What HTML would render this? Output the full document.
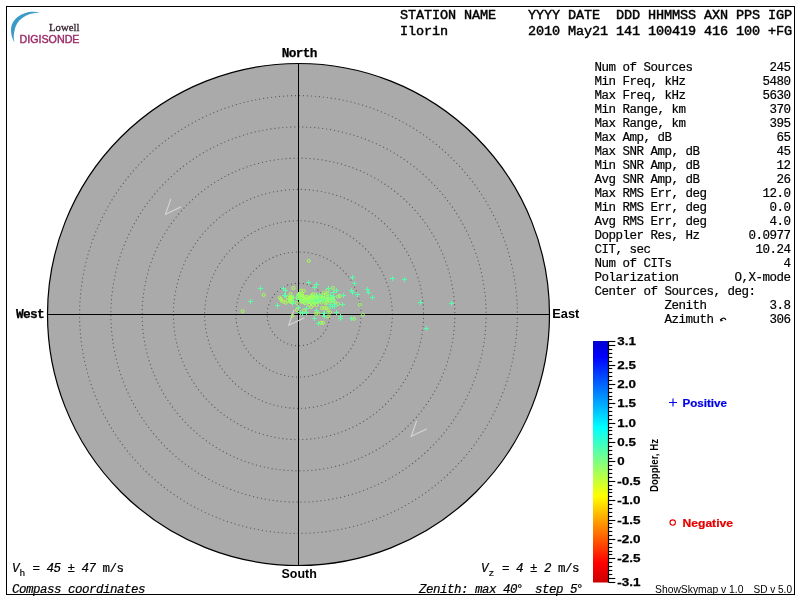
<!DOCTYPE html>
<html><head><meta charset="utf-8"><title>Skymap - Ilorin</title>
<style>html,body{margin:0;padding:0;background:#fff;}svg{display:block;}</style>
</head><body>
<svg width="800" height="600" viewBox="0 0 800 600" style="will-change:transform">
<defs><linearGradient id="jet" x1="0" y1="0" x2="0" y2="1">
<stop offset="0.0000" stop-color="#0000cc"/>
<stop offset="0.0645" stop-color="#0000ff"/>
<stop offset="0.3581" stop-color="#00ffff"/>
<stop offset="0.5000" stop-color="#80ff80"/>
<stop offset="0.6419" stop-color="#ffff00"/>
<stop offset="0.9194" stop-color="#ff0000"/>
<stop offset="1.0000" stop-color="#cc0000"/>
</linearGradient></defs>
<rect x="0" y="0" width="800" height="600" fill="#fff"/>
<rect x="6.5" y="6.5" width="788" height="588" fill="none" stroke="#000" stroke-width="1"/>
<path d="M40,12.5 C25,9 11,18 11,30 C11,35 12.5,39.5 14.5,42.5 C13.3,38 13.6,34 14.7,30 C16.2,21 25,12.6 40,12.5 Z" fill="#3a9bc8"/>
<text x="49" y="31" font-family='"Liberation Serif", serif' font-size="11" font-weight="normal" fill="#33232e" textLength="30.5" lengthAdjust="spacingAndGlyphs" stroke="#33232e" stroke-width="0.3" xml:space="preserve">Lowell</text>
<text x="19.5" y="42.5" font-family='"Liberation Sans", sans-serif' font-size="10" font-weight="normal" fill="#9c2c68" textLength="60" lengthAdjust="spacingAndGlyphs" stroke="#9c2c68" stroke-width="0.4" xml:space="preserve">DIGISONDE</text>
<text x="400 408 416 424 432 440 448 456 464 472 480 488 496 504 512 520 528 536 544 552 560 568 576 584 592 600 608 616 624 632 640 648 656 664 672 680 688 696 704 712 720 728 736 744 752 760 768 776 784" y="19" font-family='"Liberation Mono", monospace' font-size="13.5" font-weight="normal" font-style="normal" fill="#000" xml:space="preserve" stroke="#000" stroke-width="0.45">STATION NAME    YYYY DATE  DDD HHMMSS AXN PPS IGP</text>
<text x="400 408 416 424 432 440 448 456 464 472 480 488 496 504 512 520 528 536 544 552 560 568 576 584 592 600 608 616 624 632 640 648 656 664 672 680 688 696 704 712 720 728 736 744 752 760 768 776 784" y="35" font-family='"Liberation Mono", monospace' font-size="13.5" font-weight="normal" font-style="normal" fill="#000" xml:space="preserve" stroke="#000" stroke-width="0.45">Ilorin          2010 May21 141 100419 416 100 +FG</text>
<text x="594.5 601.5 608.5 615.5 622.5 629.5 636.5 643.5 650.5 657.5 664.5 671.5 678.5 685.5 692.5 699.5 706.5 713.5 720.5 727.5 734.5 741.5 748.5 755.5 762.5 769.5 776.5 783.5" y="71" font-family='"Liberation Mono", monospace' font-size="12.5" font-weight="normal" font-style="normal" fill="#000" xml:space="preserve" stroke="#000" stroke-width="0.2">Num of Sources           245</text>
<text x="594.5 601.5 608.5 615.5 622.5 629.5 636.5 643.5 650.5 657.5 664.5 671.5 678.5 685.5 692.5 699.5 706.5 713.5 720.5 727.5 734.5 741.5 748.5 755.5 762.5 769.5 776.5 783.5" y="85" font-family='"Liberation Mono", monospace' font-size="12.5" font-weight="normal" font-style="normal" fill="#000" xml:space="preserve" stroke="#000" stroke-width="0.2">Min Freq, kHz           5480</text>
<text x="594.5 601.5 608.5 615.5 622.5 629.5 636.5 643.5 650.5 657.5 664.5 671.5 678.5 685.5 692.5 699.5 706.5 713.5 720.5 727.5 734.5 741.5 748.5 755.5 762.5 769.5 776.5 783.5" y="99" font-family='"Liberation Mono", monospace' font-size="12.5" font-weight="normal" font-style="normal" fill="#000" xml:space="preserve" stroke="#000" stroke-width="0.2">Max Freq, kHz           5630</text>
<text x="594.5 601.5 608.5 615.5 622.5 629.5 636.5 643.5 650.5 657.5 664.5 671.5 678.5 685.5 692.5 699.5 706.5 713.5 720.5 727.5 734.5 741.5 748.5 755.5 762.5 769.5 776.5 783.5" y="113" font-family='"Liberation Mono", monospace' font-size="12.5" font-weight="normal" font-style="normal" fill="#000" xml:space="preserve" stroke="#000" stroke-width="0.2">Min Range, km            370</text>
<text x="594.5 601.5 608.5 615.5 622.5 629.5 636.5 643.5 650.5 657.5 664.5 671.5 678.5 685.5 692.5 699.5 706.5 713.5 720.5 727.5 734.5 741.5 748.5 755.5 762.5 769.5 776.5 783.5" y="127" font-family='"Liberation Mono", monospace' font-size="12.5" font-weight="normal" font-style="normal" fill="#000" xml:space="preserve" stroke="#000" stroke-width="0.2">Max Range, km            395</text>
<text x="594.5 601.5 608.5 615.5 622.5 629.5 636.5 643.5 650.5 657.5 664.5 671.5 678.5 685.5 692.5 699.5 706.5 713.5 720.5 727.5 734.5 741.5 748.5 755.5 762.5 769.5 776.5 783.5" y="141" font-family='"Liberation Mono", monospace' font-size="12.5" font-weight="normal" font-style="normal" fill="#000" xml:space="preserve" stroke="#000" stroke-width="0.2">Max Amp, dB               65</text>
<text x="594.5 601.5 608.5 615.5 622.5 629.5 636.5 643.5 650.5 657.5 664.5 671.5 678.5 685.5 692.5 699.5 706.5 713.5 720.5 727.5 734.5 741.5 748.5 755.5 762.5 769.5 776.5 783.5" y="155" font-family='"Liberation Mono", monospace' font-size="12.5" font-weight="normal" font-style="normal" fill="#000" xml:space="preserve" stroke="#000" stroke-width="0.2">Max SNR Amp, dB           45</text>
<text x="594.5 601.5 608.5 615.5 622.5 629.5 636.5 643.5 650.5 657.5 664.5 671.5 678.5 685.5 692.5 699.5 706.5 713.5 720.5 727.5 734.5 741.5 748.5 755.5 762.5 769.5 776.5 783.5" y="169" font-family='"Liberation Mono", monospace' font-size="12.5" font-weight="normal" font-style="normal" fill="#000" xml:space="preserve" stroke="#000" stroke-width="0.2">Min SNR Amp, dB           12</text>
<text x="594.5 601.5 608.5 615.5 622.5 629.5 636.5 643.5 650.5 657.5 664.5 671.5 678.5 685.5 692.5 699.5 706.5 713.5 720.5 727.5 734.5 741.5 748.5 755.5 762.5 769.5 776.5 783.5" y="183" font-family='"Liberation Mono", monospace' font-size="12.5" font-weight="normal" font-style="normal" fill="#000" xml:space="preserve" stroke="#000" stroke-width="0.2">Avg SNR Amp, dB           26</text>
<text x="594.5 601.5 608.5 615.5 622.5 629.5 636.5 643.5 650.5 657.5 664.5 671.5 678.5 685.5 692.5 699.5 706.5 713.5 720.5 727.5 734.5 741.5 748.5 755.5 762.5 769.5 776.5 783.5" y="197" font-family='"Liberation Mono", monospace' font-size="12.5" font-weight="normal" font-style="normal" fill="#000" xml:space="preserve" stroke="#000" stroke-width="0.2">Max RMS Err, deg        12.0</text>
<text x="594.5 601.5 608.5 615.5 622.5 629.5 636.5 643.5 650.5 657.5 664.5 671.5 678.5 685.5 692.5 699.5 706.5 713.5 720.5 727.5 734.5 741.5 748.5 755.5 762.5 769.5 776.5 783.5" y="211" font-family='"Liberation Mono", monospace' font-size="12.5" font-weight="normal" font-style="normal" fill="#000" xml:space="preserve" stroke="#000" stroke-width="0.2">Min RMS Err, deg         0.0</text>
<text x="594.5 601.5 608.5 615.5 622.5 629.5 636.5 643.5 650.5 657.5 664.5 671.5 678.5 685.5 692.5 699.5 706.5 713.5 720.5 727.5 734.5 741.5 748.5 755.5 762.5 769.5 776.5 783.5" y="225" font-family='"Liberation Mono", monospace' font-size="12.5" font-weight="normal" font-style="normal" fill="#000" xml:space="preserve" stroke="#000" stroke-width="0.2">Avg RMS Err, deg         4.0</text>
<text x="594.5 601.5 608.5 615.5 622.5 629.5 636.5 643.5 650.5 657.5 664.5 671.5 678.5 685.5 692.5 699.5 706.5 713.5 720.5 727.5 734.5 741.5 748.5 755.5 762.5 769.5 776.5 783.5" y="239" font-family='"Liberation Mono", monospace' font-size="12.5" font-weight="normal" font-style="normal" fill="#000" xml:space="preserve" stroke="#000" stroke-width="0.2">Doppler Res, Hz       0.0977</text>
<text x="594.5 601.5 608.5 615.5 622.5 629.5 636.5 643.5 650.5 657.5 664.5 671.5 678.5 685.5 692.5 699.5 706.5 713.5 720.5 727.5 734.5 741.5 748.5 755.5 762.5 769.5 776.5 783.5" y="253" font-family='"Liberation Mono", monospace' font-size="12.5" font-weight="normal" font-style="normal" fill="#000" xml:space="preserve" stroke="#000" stroke-width="0.2">CIT, sec               10.24</text>
<text x="594.5 601.5 608.5 615.5 622.5 629.5 636.5 643.5 650.5 657.5 664.5 671.5 678.5 685.5 692.5 699.5 706.5 713.5 720.5 727.5 734.5 741.5 748.5 755.5 762.5 769.5 776.5 783.5" y="267" font-family='"Liberation Mono", monospace' font-size="12.5" font-weight="normal" font-style="normal" fill="#000" xml:space="preserve" stroke="#000" stroke-width="0.2">Num of CITs                4</text>
<text x="594.5 601.5 608.5 615.5 622.5 629.5 636.5 643.5 650.5 657.5 664.5 671.5 678.5 685.5 692.5 699.5 706.5 713.5 720.5 727.5 734.5 741.5 748.5 755.5 762.5 769.5 776.5 783.5" y="281" font-family='"Liberation Mono", monospace' font-size="12.5" font-weight="normal" font-style="normal" fill="#000" xml:space="preserve" stroke="#000" stroke-width="0.2">Polarization        O,X-mode</text>
<text x="594.5 601.5 608.5 615.5 622.5 629.5 636.5 643.5 650.5 657.5 664.5 671.5 678.5 685.5 692.5 699.5 706.5 713.5 720.5 727.5 734.5 741.5 748.5 755.5 762.5 769.5 776.5 783.5" y="295" font-family='"Liberation Mono", monospace' font-size="12.5" font-weight="normal" font-style="normal" fill="#000" xml:space="preserve" stroke="#000" stroke-width="0.2">Center of Sources, deg:     </text>
<text x="594.5 601.5 608.5 615.5 622.5 629.5 636.5 643.5 650.5 657.5 664.5 671.5 678.5 685.5 692.5 699.5 706.5 713.5 720.5 727.5 734.5 741.5 748.5 755.5 762.5 769.5 776.5 783.5" y="309" font-family='"Liberation Mono", monospace' font-size="12.5" font-weight="normal" font-style="normal" fill="#000" xml:space="preserve" stroke="#000" stroke-width="0.2">          Zenith         3.8</text>
<text x="594.5 601.5 608.5 615.5 622.5 629.5 636.5 643.5 650.5 657.5 664.5 671.5 678.5 685.5 692.5 699.5 706.5 713.5 720.5 727.5 734.5 741.5 748.5 755.5 762.5 769.5 776.5 783.5" y="323" font-family='"Liberation Mono", monospace' font-size="12.5" font-weight="normal" font-style="normal" fill="#000" xml:space="preserve" stroke="#000" stroke-width="0.2">          Azimuth        306</text>
<path d="M720.8,320.2 C721.7,317.6 725,317.2 725.8,320.0" fill="none" stroke="#111" stroke-width="1.3"/>
<path d="M719.8,318.6 L720.4,321.6 L723.4,320.8 Z" fill="#111"/>
<circle cx="298.5" cy="314.5" r="251" fill="#aaaaaa" stroke="#000" stroke-width="1.2"/>
<circle cx="298.5" cy="314.5" r="31.27" fill="none" stroke="#5c5c5c" stroke-width="1.2" stroke-linecap="round" stroke-dasharray="0.1 3.9"/>
<circle cx="298.5" cy="314.5" r="62.54" fill="none" stroke="#5c5c5c" stroke-width="1.2" stroke-linecap="round" stroke-dasharray="0.1 3.9"/>
<circle cx="298.5" cy="314.5" r="93.81" fill="none" stroke="#5c5c5c" stroke-width="1.2" stroke-linecap="round" stroke-dasharray="0.1 3.9"/>
<circle cx="298.5" cy="314.5" r="125.08" fill="none" stroke="#5c5c5c" stroke-width="1.2" stroke-linecap="round" stroke-dasharray="0.1 3.9"/>
<circle cx="298.5" cy="314.5" r="156.35" fill="none" stroke="#5c5c5c" stroke-width="1.2" stroke-linecap="round" stroke-dasharray="0.1 3.9"/>
<circle cx="298.5" cy="314.5" r="187.62" fill="none" stroke="#5c5c5c" stroke-width="1.2" stroke-linecap="round" stroke-dasharray="0.1 3.9"/>
<circle cx="298.5" cy="314.5" r="218.89" fill="none" stroke="#5c5c5c" stroke-width="1.2" stroke-linecap="round" stroke-dasharray="0.1 3.9"/>
<line x1="298.5" y1="63.5" x2="298.5" y2="565.5" stroke="#000" stroke-width="1"/>
<line x1="47.5" y1="314.5" x2="549.5" y2="314.5" stroke="#000" stroke-width="1"/>
<polyline points="170.7,199.1 165.5,214.3 180.8,207" fill="none" stroke="#d6d6d6" stroke-width="1.1" stroke-linecap="round"/>
<polyline points="293.9,310.1 288.7,325.3 304,318" fill="none" stroke="#d6d6d6" stroke-width="1.1" stroke-linecap="round"/>
<polyline points="416.5,421.1 411.3,436.3 426.6,429" fill="none" stroke="#d6d6d6" stroke-width="1.1" stroke-linecap="round"/>
<text x="281.7 288.7 295.7 302.7 309.7" y="56.5" font-family='"Liberation Mono", monospace' font-size="12.8" font-weight="bold" font-style="normal" fill="#000" xml:space="preserve" stroke="#000" stroke-width="0.25">North</text>
<text x="15.9 22.9 29.9 36.9" y="318" font-family='"Liberation Mono", monospace' font-size="12.8" font-weight="bold" font-style="normal" fill="#000" xml:space="preserve" stroke="#000" stroke-width="0.25">West</text>
<text x="281.5" y="577.8" font-family='"Liberation Sans", sans-serif' font-size="12" font-weight="bold" fill="#000" textLength="35.3" lengthAdjust="spacingAndGlyphs" xml:space="preserve">South</text>
<text x="552.3" y="317.8" font-family='"Liberation Sans", sans-serif' font-size="12" font-weight="bold" fill="#000" textLength="27" lengthAdjust="spacingAndGlyphs" xml:space="preserve">East</text>
<g fill="none" stroke-width="1">
<circle cx="263.7" cy="294.9" r="1.55" stroke="#abff54"/>
<circle cx="242.7" cy="311.1" r="1.55" stroke="#abff54"/>
<circle cx="279.7" cy="297.6" r="1.55" stroke="#abff54"/>
<circle cx="281.7" cy="300.7" r="1.55" stroke="#abff54"/>
<circle cx="287.7" cy="297.3" r="1.55" stroke="#abff54"/>
<circle cx="285.7" cy="302.7" r="1.55" stroke="#abff54"/>
<circle cx="287.7" cy="300.7" r="1.55" stroke="#abff54"/>
<circle cx="291.7" cy="297.6" r="1.55" stroke="#abff54"/>
<circle cx="293.3" cy="288.0" r="1.55" stroke="#abff54"/>
<circle cx="292.6" cy="315.6" r="1.55" stroke="#abff54"/>
<circle cx="301.0" cy="290.8" r="1.55" stroke="#abff54"/>
<circle cx="303.8" cy="290.8" r="1.55" stroke="#abff54"/>
<circle cx="297.0" cy="310.0" r="1.55" stroke="#abff54"/>
<circle cx="304.0" cy="310.5" r="1.55" stroke="#abff54"/>
<circle cx="311.0" cy="307.0" r="1.55" stroke="#abff54"/>
<circle cx="313.0" cy="305.0" r="1.55" stroke="#abff54"/>
<circle cx="316.0" cy="313.5" r="1.55" stroke="#abff54"/>
<circle cx="318.5" cy="313.5" r="1.55" stroke="#abff54"/>
<circle cx="321.0" cy="322.8" r="1.55" stroke="#abff54"/>
<circle cx="323.0" cy="322.8" r="1.55" stroke="#abff54"/>
<circle cx="328.0" cy="316.5" r="1.55" stroke="#abff54"/>
<circle cx="322.0" cy="308.0" r="1.55" stroke="#abff54"/>
<circle cx="324.5" cy="308.0" r="1.55" stroke="#abff54"/>
<circle cx="326.5" cy="308.0" r="1.55" stroke="#abff54"/>
<circle cx="328.0" cy="310.0" r="1.55" stroke="#abff54"/>
<circle cx="330.0" cy="312.5" r="1.55" stroke="#abff54"/>
<circle cx="333.0" cy="288.0" r="1.55" stroke="#9dff63"/>
<circle cx="340.0" cy="296.0" r="1.55" stroke="#9dff63"/>
<circle cx="338.0" cy="304.0" r="1.55" stroke="#9dff63"/>
<circle cx="359.8" cy="304.8" r="1.55" stroke="#9dff63"/>
<circle cx="362.8" cy="314.8" r="1.55" stroke="#9dff63"/>
<circle cx="354.0" cy="318.8" r="1.55" stroke="#9dff63"/>
<circle cx="327.5" cy="290.5" r="1.55" stroke="#9dff63"/>
<circle cx="327.5" cy="293.5" r="1.55" stroke="#9dff63"/>
<circle cx="323.5" cy="293.0" r="1.55" stroke="#9dff63"/>
<circle cx="330.0" cy="301.0" r="1.55" stroke="#9dff63"/>
<circle cx="333.0" cy="301.0" r="1.55" stroke="#9dff63"/>
<circle cx="308.8" cy="260.9" r="1.55" stroke="#a4ff5c"/>
<circle cx="281.0" cy="299.0" r="1.55" stroke="#abff54"/>
<circle cx="283.5" cy="301.5" r="1.55" stroke="#abff54"/>
<path d="M258.0,288.5h5M260.5,286.0v5" stroke="#5cffa4"/>
<path d="M248.0,301.5h5M250.5,299.0v5" stroke="#5cffa4"/>
<path d="M275.0,305.5h5M277.5,303.0v5" stroke="#5cffa4"/>
<path d="M281.0,288.5h5M283.5,286.0v5" stroke="#5cffa4"/>
<path d="M283.0,290.5h5M285.5,288.0v5" stroke="#5cffa4"/>
<path d="M283.0,295.5h5M285.5,293.0v5" stroke="#5cffa4"/>
<path d="M290.0,303.5h5M292.5,301.0v5" stroke="#5cffa4"/>
<path d="M306.0,282.5h5M308.5,280.0v5" stroke="#5cffa4"/>
<path d="M314.0,284.5h5M316.5,282.0v5" stroke="#5cffa4"/>
<path d="M312.0,287.5h5M314.5,285.0v5" stroke="#5cffa4"/>
<path d="M296.0,294.5h5M298.5,292.0v5" stroke="#5cffa4"/>
<path d="M282.0,295.5h5M284.5,293.0v5" stroke="#5cffa4"/>
<path d="M326.0,288.5h5M328.5,286.0v5" stroke="#5cffa4"/>
<path d="M290.0,303.5h5M292.5,301.0v5" stroke="#5cffa4"/>
<path d="M296.0,307.5h5M298.5,305.0v5" stroke="#5cffa4"/>
<path d="M304.0,308.5h5M306.5,306.0v5" stroke="#5cffa4"/>
<path d="M298.0,312.5h5M300.5,310.0v5" stroke="#5cffa4"/>
<path d="M300.0,313.5h5M302.5,311.0v5" stroke="#5cffa4"/>
<path d="M304.0,312.5h5M306.5,310.0v5" stroke="#5cffa4"/>
<path d="M314.0,310.5h5M316.5,308.0v5" stroke="#5cffa4"/>
<path d="M312.0,318.5h5M314.5,316.0v5" stroke="#5cffa4"/>
<path d="M316.0,323.5h5M318.5,321.0v5" stroke="#5cffa4"/>
<path d="M322.0,313.5h5M324.5,311.0v5" stroke="#5cffa4"/>
<path d="M322.0,316.5h5M324.5,314.0v5" stroke="#5cffa4"/>
<path d="M350.0,277.5h5M352.5,275.0v5" stroke="#54ffab"/>
<path d="M352.0,283.5h5M354.5,281.0v5" stroke="#54ffab"/>
<path d="M349.0,290.5h5M351.5,288.0v5" stroke="#54ffab"/>
<path d="M350.0,292.5h5M352.5,290.0v5" stroke="#54ffab"/>
<path d="M355.0,294.5h5M357.5,292.0v5" stroke="#54ffab"/>
<path d="M365.0,289.5h5M367.5,287.0v5" stroke="#54ffab"/>
<path d="M366.0,292.5h5M368.5,290.0v5" stroke="#54ffab"/>
<path d="M370.0,297.5h5M372.5,295.0v5" stroke="#54ffab"/>
<path d="M326.0,288.5h5M328.5,286.0v5" stroke="#5cffa4"/>
<path d="M334.0,290.5h5M336.5,288.0v5" stroke="#5cffa4"/>
<path d="M331.0,292.5h5M333.5,290.0v5" stroke="#5cffa4"/>
<path d="M331.0,296.5h5M333.5,294.0v5" stroke="#5cffa4"/>
<path d="M341.0,295.5h5M343.5,293.0v5" stroke="#5cffa4"/>
<path d="M340.0,304.5h5M342.5,302.0v5" stroke="#5cffa4"/>
<path d="M334.0,312.5h5M336.5,310.0v5" stroke="#5cffa4"/>
<path d="M338.0,316.5h5M340.5,314.0v5" stroke="#5cffa4"/>
<path d="M338.0,318.5h5M340.5,316.0v5" stroke="#5cffa4"/>
<path d="M349.0,318.5h5M351.5,316.0v5" stroke="#5cffa4"/>
<path d="M321.0,313.5h5M323.5,311.0v5" stroke="#5cffa4"/>
<path d="M390.0,278.5h5M392.5,276.0v5" stroke="#54ffab"/>
<path d="M402.0,279.5h5M404.5,277.0v5" stroke="#54ffab"/>
<path d="M418.0,302.5h5M420.5,300.0v5" stroke="#54ffab"/>
<path d="M449.0,303.5h5M451.5,301.0v5" stroke="#54ffab"/>
<path d="M424.0,328.5h5M426.5,326.0v5" stroke="#54ffab"/>
<path d="M328.0,304.5h5M330.5,302.0v5" stroke="#54ffab"/>
<path d="M330.0,306.5h5M332.5,304.0v5" stroke="#54ffab"/>
<path d="M332.0,304.5h5M334.5,302.0v5" stroke="#54ffab"/>
<path d="M330.0,306.5h5M332.5,304.0v5" stroke="#54ffab"/>
<path d="M328.0,306.5h5M330.5,304.0v5" stroke="#54ffab"/>
<path d="M332.0,306.5h5M334.5,304.0v5" stroke="#54ffab"/>
<path d="M311.0,297.5h5M313.5,295.0v5" stroke="#69ff97"/>
<path d="M306.0,298.5h5M308.5,296.0v5" stroke="#6bff95"/>
<circle cx="311.4" cy="301.6" r="1.55" stroke="#a4ff5c"/>
<circle cx="328.6" cy="296.7" r="1.55" stroke="#9dff62"/>
<circle cx="290.5" cy="301.9" r="1.55" stroke="#abff54"/>
<path d="M294.0,297.5h5M296.5,295.0v5" stroke="#70ff90"/>
<circle cx="311.1" cy="298.9" r="1.55" stroke="#a4ff5c"/>
<circle cx="322.4" cy="299.0" r="1.55" stroke="#a0ff60"/>
<circle cx="309.5" cy="298.8" r="1.55" stroke="#a4ff5b"/>
<circle cx="313.3" cy="296.6" r="1.55" stroke="#a3ff5d"/>
<circle cx="303.6" cy="298.9" r="1.55" stroke="#a7ff59"/>
<circle cx="302.2" cy="295.7" r="1.55" stroke="#a7ff59"/>
<path d="M309.0,296.5h5M311.5,294.0v5" stroke="#6aff96"/>
<circle cx="318.3" cy="297.9" r="1.55" stroke="#a1ff5e"/>
<path d="M325.0,298.5h5M327.5,296.0v5" stroke="#64ff9c"/>
<circle cx="301.7" cy="298.3" r="1.55" stroke="#a7ff58"/>
<circle cx="325.7" cy="294.5" r="1.55" stroke="#9fff61"/>
<circle cx="332.9" cy="299.0" r="1.55" stroke="#9cff64"/>
<circle cx="302.3" cy="295.8" r="1.55" stroke="#a7ff59"/>
<circle cx="311.1" cy="300.4" r="1.55" stroke="#a4ff5c"/>
<path d="M317.0,300.5h5M319.5,298.0v5" stroke="#67ff99"/>
<path d="M309.0,299.5h5M311.5,297.0v5" stroke="#6aff96"/>
<path d="M305.0,299.5h5M307.5,297.0v5" stroke="#6bff95"/>
<circle cx="325.7" cy="303.3" r="1.55" stroke="#9fff61"/>
<path d="M307.0,301.5h5M309.5,299.0v5" stroke="#6aff95"/>
<path d="M313.0,299.5h5M315.5,297.0v5" stroke="#69ff97"/>
<circle cx="313.4" cy="296.5" r="1.55" stroke="#a3ff5d"/>
<path d="M308.0,301.5h5M310.5,299.0v5" stroke="#6aff96"/>
<path d="M317.0,300.5h5M319.5,298.0v5" stroke="#67ff99"/>
<path d="M322.0,298.5h5M324.5,296.0v5" stroke="#65ff9b"/>
<circle cx="304.1" cy="302.0" r="1.55" stroke="#a6ff59"/>
<path d="M326.0,298.5h5M328.5,296.0v5" stroke="#64ff9c"/>
<circle cx="333.2" cy="298.8" r="1.55" stroke="#9cff64"/>
<circle cx="299.6" cy="294.0" r="1.55" stroke="#a8ff58"/>
<path d="M301.0,300.5h5M303.5,298.0v5" stroke="#6dff93"/>
<path d="M308.0,296.5h5M310.5,294.0v5" stroke="#6aff95"/>
<circle cx="313.9" cy="297.3" r="1.55" stroke="#a3ff5d"/>
<path d="M320.0,297.5h5M322.5,295.0v5" stroke="#66ff9a"/>
<circle cx="317.3" cy="297.9" r="1.55" stroke="#a2ff5e"/>
<path d="M314.0,295.5h5M316.5,293.0v5" stroke="#68ff98"/>
<path d="M312.0,298.5h5M314.5,296.0v5" stroke="#69ff97"/>
<circle cx="315.1" cy="300.3" r="1.55" stroke="#a2ff5d"/>
<circle cx="309.5" cy="299.6" r="1.55" stroke="#a4ff5b"/>
<path d="M303.0,299.5h5M305.5,297.0v5" stroke="#6cff94"/>
<path d="M300.0,300.5h5M302.5,298.0v5" stroke="#6dff93"/>
<circle cx="303.8" cy="298.7" r="1.55" stroke="#a7ff59"/>
<circle cx="304.6" cy="299.4" r="1.55" stroke="#a6ff59"/>
<path d="M288.0,300.5h5M290.5,298.0v5" stroke="#72ff8e"/>
<circle cx="310.3" cy="297.4" r="1.55" stroke="#a4ff5c"/>
<path d="M317.0,297.5h5M319.5,295.0v5" stroke="#67ff99"/>
<circle cx="326.8" cy="302.7" r="1.55" stroke="#9eff62"/>
<circle cx="305.2" cy="303.2" r="1.55" stroke="#a6ff5a"/>
<circle cx="321.4" cy="302.5" r="1.55" stroke="#a0ff60"/>
<circle cx="313.9" cy="300.9" r="1.55" stroke="#a3ff5d"/>
<circle cx="322.2" cy="298.4" r="1.55" stroke="#a0ff60"/>
<circle cx="307.7" cy="300.9" r="1.55" stroke="#a5ff5b"/>
<circle cx="301.1" cy="298.0" r="1.55" stroke="#a8ff58"/>
<circle cx="290.6" cy="294.0" r="1.55" stroke="#abff54"/>
<circle cx="311.9" cy="299.6" r="1.55" stroke="#a4ff5c"/>
<circle cx="317.2" cy="300.7" r="1.55" stroke="#a2ff5e"/>
<circle cx="313.0" cy="294.1" r="1.55" stroke="#a3ff5d"/>
<circle cx="309.0" cy="299.2" r="1.55" stroke="#a5ff5b"/>
<circle cx="317.7" cy="299.3" r="1.55" stroke="#a1ff5e"/>
<circle cx="313.0" cy="298.4" r="1.55" stroke="#a3ff5d"/>
<path d="M316.0,300.5h5M318.5,298.0v5" stroke="#67ff99"/>
<path d="M321.0,300.5h5M323.5,298.0v5" stroke="#65ff9a"/>
<path d="M309.0,300.5h5M311.5,298.0v5" stroke="#6aff96"/>
<circle cx="302.3" cy="301.2" r="1.55" stroke="#a7ff59"/>
<circle cx="315.7" cy="294.6" r="1.55" stroke="#a2ff5e"/>
<circle cx="311.2" cy="300.8" r="1.55" stroke="#a4ff5c"/>
<circle cx="299.5" cy="298.1" r="1.55" stroke="#a8ff58"/>
<circle cx="317.3" cy="301.8" r="1.55" stroke="#a2ff5e"/>
<circle cx="313.6" cy="298.1" r="1.55" stroke="#a3ff5d"/>
<path d="M299.0,299.5h5M301.5,297.0v5" stroke="#6eff92"/>
<circle cx="316.7" cy="305.0" r="1.55" stroke="#a2ff5e"/>
<path d="M298.0,295.5h5M300.5,293.0v5" stroke="#6eff92"/>
<circle cx="306.7" cy="296.7" r="1.55" stroke="#a6ff5a"/>
<circle cx="320.2" cy="298.2" r="1.55" stroke="#a1ff5f"/>
<circle cx="314.3" cy="300.0" r="1.55" stroke="#a3ff5d"/>
<circle cx="323.6" cy="295.3" r="1.55" stroke="#9fff60"/>
<path d="M305.0,301.5h5M307.5,299.0v5" stroke="#6bff95"/>
<circle cx="314.4" cy="300.1" r="1.55" stroke="#a3ff5d"/>
<path d="M313.0,302.5h5M315.5,300.0v5" stroke="#68ff97"/>
<circle cx="317.7" cy="301.6" r="1.55" stroke="#a1ff5e"/>
<path d="M321.0,300.5h5M323.5,298.0v5" stroke="#65ff9a"/>
<circle cx="316.4" cy="297.1" r="1.55" stroke="#a2ff5e"/>
<circle cx="315.9" cy="300.4" r="1.55" stroke="#a2ff5e"/>
<circle cx="309.3" cy="301.1" r="1.55" stroke="#a5ff5b"/>
<circle cx="309.9" cy="298.7" r="1.55" stroke="#a4ff5b"/>
<path d="M291.0,297.5h5M293.5,295.0v5" stroke="#71ff8f"/>
<circle cx="330.8" cy="299.0" r="1.55" stroke="#9dff63"/>
<circle cx="310.9" cy="300.7" r="1.55" stroke="#a4ff5c"/>
<circle cx="313.2" cy="300.8" r="1.55" stroke="#a3ff5d"/>
<path d="M316.0,301.5h5M318.5,299.0v5" stroke="#67ff99"/>
<circle cx="327.2" cy="298.8" r="1.55" stroke="#9eff62"/>
<circle cx="307.6" cy="300.7" r="1.55" stroke="#a5ff5b"/>
<circle cx="309.2" cy="301.7" r="1.55" stroke="#a5ff5b"/>
<circle cx="290.9" cy="296.8" r="1.55" stroke="#abff54"/>
<path d="M308.0,301.5h5M310.5,299.0v5" stroke="#6aff96"/>
<path d="M312.0,297.5h5M314.5,295.0v5" stroke="#69ff97"/>
<circle cx="314.1" cy="302.7" r="1.55" stroke="#a3ff5d"/>
<path d="M316.0,300.5h5M318.5,298.0v5" stroke="#67ff99"/>
<circle cx="301.8" cy="301.7" r="1.55" stroke="#a7ff58"/>
<circle cx="302.3" cy="298.7" r="1.55" stroke="#a7ff59"/>
<circle cx="301.8" cy="294.0" r="1.55" stroke="#a7ff58"/>
<circle cx="331.5" cy="301.3" r="1.55" stroke="#9cff63"/>
<path d="M297.0,299.5h5M299.5,297.0v5" stroke="#6eff91"/>
<path d="M304.0,300.5h5M306.5,298.0v5" stroke="#6cff94"/>
<path d="M311.0,299.5h5M313.5,297.0v5" stroke="#69ff97"/>
<circle cx="322.8" cy="298.0" r="1.55" stroke="#a0ff60"/>
<path d="M316.0,299.5h5M318.5,297.0v5" stroke="#67ff99"/>
<circle cx="314.6" cy="298.7" r="1.55" stroke="#a3ff5d"/>
<circle cx="309.2" cy="305.0" r="1.55" stroke="#a5ff5b"/>
<circle cx="305.3" cy="299.8" r="1.55" stroke="#a6ff5a"/>
<circle cx="307.2" cy="296.9" r="1.55" stroke="#a5ff5a"/>
<circle cx="290.5" cy="297.9" r="1.55" stroke="#abff54"/>
<path d="M313.0,300.5h5M315.5,298.0v5" stroke="#68ff97"/>
<path d="M300.0,297.5h5M302.5,295.0v5" stroke="#6dff93"/>
<circle cx="314.3" cy="298.0" r="1.55" stroke="#a3ff5d"/>
<circle cx="290.5" cy="300.0" r="1.55" stroke="#abff54"/>
<circle cx="297.1" cy="303.3" r="1.55" stroke="#a9ff57"/>
<path d="M318.0,299.5h5M320.5,297.0v5" stroke="#67ff99"/>
<circle cx="290.5" cy="300.2" r="1.55" stroke="#abff54"/>
<path d="M328.0,295.5h5M330.5,293.0v5" stroke="#63ff9d"/>
<path d="M312.0,300.5h5M314.5,298.0v5" stroke="#69ff97"/>
<circle cx="320.0" cy="296.1" r="1.55" stroke="#a1ff5f"/>
<circle cx="309.4" cy="299.3" r="1.55" stroke="#a5ff5b"/>
<circle cx="309.5" cy="298.7" r="1.55" stroke="#a4ff5b"/>
<circle cx="319.9" cy="301.1" r="1.55" stroke="#a1ff5f"/>
<circle cx="334.8" cy="301.9" r="1.55" stroke="#9bff65"/>
<circle cx="308.7" cy="300.6" r="1.55" stroke="#a5ff5b"/>
<circle cx="298.6" cy="294.9" r="1.55" stroke="#a8ff57"/>
<path d="M317.0,299.5h5M319.5,297.0v5" stroke="#67ff99"/>
<circle cx="338.0" cy="296.6" r="1.55" stroke="#9aff66"/>
<circle cx="311.6" cy="295.9" r="1.55" stroke="#a4ff5c"/>
<circle cx="306.6" cy="297.1" r="1.55" stroke="#a6ff5a"/>
<circle cx="327.2" cy="300.7" r="1.55" stroke="#9eff62"/>
<circle cx="290.5" cy="297.3" r="1.55" stroke="#abff54"/>
<path d="M321.0,299.5h5M323.5,297.0v5" stroke="#65ff9a"/>
<circle cx="301.6" cy="297.5" r="1.55" stroke="#a7ff58"/>
<circle cx="312.8" cy="302.1" r="1.55" stroke="#a3ff5c"/>
<circle cx="304.7" cy="297.6" r="1.55" stroke="#a6ff59"/>
<path d="M330.0,300.5h5M332.5,298.0v5" stroke="#62ff9e"/>
<circle cx="299.5" cy="297.6" r="1.55" stroke="#a8ff58"/>
<path d="M317.0,295.5h5M319.5,293.0v5" stroke="#67ff99"/>
<path d="M291.0,301.5h5M293.5,299.0v5" stroke="#71ff8f"/>
<circle cx="313.1" cy="302.6" r="1.55" stroke="#a3ff5d"/>
<circle cx="323.5" cy="297.3" r="1.55" stroke="#9fff60"/>
<path d="M309.0,300.5h5M311.5,298.0v5" stroke="#6aff96"/>
<circle cx="311.4" cy="299.6" r="1.55" stroke="#a4ff5c"/>
<circle cx="317.1" cy="297.3" r="1.55" stroke="#a2ff5e"/>
</g>
<rect x="593" y="341" width="15.5" height="241.5" fill="url(#jet)"/>
<line x1="608.5" y1="341" x2="608.5" y2="582.5" stroke="#000" stroke-width="1.2"/>
<line x1="608.5" y1="341.5" x2="615.3" y2="341.5" stroke="#000" stroke-width="1.1"/>
<text x="617.3" y="345.2" font-family='"Liberation Sans", sans-serif' font-size="10.5" font-weight="bold" fill="#000" textLength="18.6" lengthAdjust="spacingAndGlyphs" stroke="#000" stroke-width="0.25" xml:space="preserve">3.1</text>
<line x1="608.5" y1="345.5" x2="615.3" y2="345.5" stroke="#000" stroke-width="1.1"/>
<line x1="608.5" y1="349.5" x2="612.3" y2="349.5" stroke="#000" stroke-width="1.1"/>
<line x1="608.5" y1="353.5" x2="612.3" y2="353.5" stroke="#000" stroke-width="1.1"/>
<line x1="608.5" y1="357.5" x2="612.3" y2="357.5" stroke="#000" stroke-width="1.1"/>
<line x1="608.5" y1="361.5" x2="612.3" y2="361.5" stroke="#000" stroke-width="1.1"/>
<line x1="608.5" y1="365.5" x2="615.3" y2="365.5" stroke="#000" stroke-width="1.1"/>
<text x="617.3" y="369.2" font-family='"Liberation Sans", sans-serif' font-size="10.5" font-weight="bold" fill="#000" textLength="18.6" lengthAdjust="spacingAndGlyphs" stroke="#000" stroke-width="0.25" xml:space="preserve">2.5</text>
<line x1="608.5" y1="368.5" x2="612.3" y2="368.5" stroke="#000" stroke-width="1.1"/>
<line x1="608.5" y1="372.5" x2="612.3" y2="372.5" stroke="#000" stroke-width="1.1"/>
<line x1="608.5" y1="376.5" x2="612.3" y2="376.5" stroke="#000" stroke-width="1.1"/>
<line x1="608.5" y1="380.5" x2="612.3" y2="380.5" stroke="#000" stroke-width="1.1"/>
<line x1="608.5" y1="384.5" x2="615.3" y2="384.5" stroke="#000" stroke-width="1.1"/>
<text x="617.3" y="388.2" font-family='"Liberation Sans", sans-serif' font-size="10.5" font-weight="bold" fill="#000" textLength="18.6" lengthAdjust="spacingAndGlyphs" stroke="#000" stroke-width="0.25" xml:space="preserve">2.0</text>
<line x1="608.5" y1="388.5" x2="612.3" y2="388.5" stroke="#000" stroke-width="1.1"/>
<line x1="608.5" y1="392.5" x2="612.3" y2="392.5" stroke="#000" stroke-width="1.1"/>
<line x1="608.5" y1="396.5" x2="612.3" y2="396.5" stroke="#000" stroke-width="1.1"/>
<line x1="608.5" y1="399.5" x2="612.3" y2="399.5" stroke="#000" stroke-width="1.1"/>
<line x1="608.5" y1="403.5" x2="615.3" y2="403.5" stroke="#000" stroke-width="1.1"/>
<text x="617.3" y="407.2" font-family='"Liberation Sans", sans-serif' font-size="10.5" font-weight="bold" fill="#000" textLength="18.6" lengthAdjust="spacingAndGlyphs" stroke="#000" stroke-width="0.25" xml:space="preserve">1.5</text>
<line x1="608.5" y1="407.5" x2="612.3" y2="407.5" stroke="#000" stroke-width="1.1"/>
<line x1="608.5" y1="411.5" x2="612.3" y2="411.5" stroke="#000" stroke-width="1.1"/>
<line x1="608.5" y1="415.5" x2="612.3" y2="415.5" stroke="#000" stroke-width="1.1"/>
<line x1="608.5" y1="419.5" x2="612.3" y2="419.5" stroke="#000" stroke-width="1.1"/>
<line x1="608.5" y1="423.5" x2="615.3" y2="423.5" stroke="#000" stroke-width="1.1"/>
<text x="617.3" y="427.2" font-family='"Liberation Sans", sans-serif' font-size="10.5" font-weight="bold" fill="#000" textLength="18.6" lengthAdjust="spacingAndGlyphs" stroke="#000" stroke-width="0.25" xml:space="preserve">1.0</text>
<line x1="608.5" y1="427.5" x2="612.3" y2="427.5" stroke="#000" stroke-width="1.1"/>
<line x1="608.5" y1="430.5" x2="612.3" y2="430.5" stroke="#000" stroke-width="1.1"/>
<line x1="608.5" y1="434.5" x2="612.3" y2="434.5" stroke="#000" stroke-width="1.1"/>
<line x1="608.5" y1="438.5" x2="612.3" y2="438.5" stroke="#000" stroke-width="1.1"/>
<line x1="608.5" y1="442.5" x2="615.3" y2="442.5" stroke="#000" stroke-width="1.1"/>
<text x="617.3" y="446.2" font-family='"Liberation Sans", sans-serif' font-size="10.5" font-weight="bold" fill="#000" textLength="18.6" lengthAdjust="spacingAndGlyphs" stroke="#000" stroke-width="0.25" xml:space="preserve">0.5</text>
<line x1="608.5" y1="446.5" x2="612.3" y2="446.5" stroke="#000" stroke-width="1.1"/>
<line x1="608.5" y1="450.5" x2="612.3" y2="450.5" stroke="#000" stroke-width="1.1"/>
<line x1="608.5" y1="454.5" x2="612.3" y2="454.5" stroke="#000" stroke-width="1.1"/>
<line x1="608.5" y1="458.5" x2="612.3" y2="458.5" stroke="#000" stroke-width="1.1"/>
<line x1="608.5" y1="461.5" x2="615.3" y2="461.5" stroke="#000" stroke-width="1.1"/>
<text x="617.3" y="465.2" font-family='"Liberation Sans", sans-serif' font-size="10.5" font-weight="bold" fill="#000" textLength="7.4" lengthAdjust="spacingAndGlyphs" stroke="#000" stroke-width="0.25" xml:space="preserve">0</text>
<line x1="608.5" y1="465.5" x2="612.3" y2="465.5" stroke="#000" stroke-width="1.1"/>
<line x1="608.5" y1="469.5" x2="612.3" y2="469.5" stroke="#000" stroke-width="1.1"/>
<line x1="608.5" y1="473.5" x2="612.3" y2="473.5" stroke="#000" stroke-width="1.1"/>
<line x1="608.5" y1="477.5" x2="612.3" y2="477.5" stroke="#000" stroke-width="1.1"/>
<line x1="608.5" y1="481.5" x2="615.3" y2="481.5" stroke="#000" stroke-width="1.1"/>
<text x="617.3" y="485.2" font-family='"Liberation Sans", sans-serif' font-size="10.5" font-weight="bold" fill="#000" textLength="23.2" lengthAdjust="spacingAndGlyphs" stroke="#000" stroke-width="0.25" xml:space="preserve">-0.5</text>
<line x1="608.5" y1="485.5" x2="612.3" y2="485.5" stroke="#000" stroke-width="1.1"/>
<line x1="608.5" y1="489.5" x2="612.3" y2="489.5" stroke="#000" stroke-width="1.1"/>
<line x1="608.5" y1="492.5" x2="612.3" y2="492.5" stroke="#000" stroke-width="1.1"/>
<line x1="608.5" y1="496.5" x2="612.3" y2="496.5" stroke="#000" stroke-width="1.1"/>
<line x1="608.5" y1="500.5" x2="615.3" y2="500.5" stroke="#000" stroke-width="1.1"/>
<text x="617.3" y="504.2" font-family='"Liberation Sans", sans-serif' font-size="10.5" font-weight="bold" fill="#000" textLength="23.2" lengthAdjust="spacingAndGlyphs" stroke="#000" stroke-width="0.25" xml:space="preserve">-1.0</text>
<line x1="608.5" y1="504.5" x2="612.3" y2="504.5" stroke="#000" stroke-width="1.1"/>
<line x1="608.5" y1="508.5" x2="612.3" y2="508.5" stroke="#000" stroke-width="1.1"/>
<line x1="608.5" y1="512.5" x2="612.3" y2="512.5" stroke="#000" stroke-width="1.1"/>
<line x1="608.5" y1="516.5" x2="612.3" y2="516.5" stroke="#000" stroke-width="1.1"/>
<line x1="608.5" y1="520.5" x2="615.3" y2="520.5" stroke="#000" stroke-width="1.1"/>
<text x="617.3" y="524.2" font-family='"Liberation Sans", sans-serif' font-size="10.5" font-weight="bold" fill="#000" textLength="23.2" lengthAdjust="spacingAndGlyphs" stroke="#000" stroke-width="0.25" xml:space="preserve">-1.5</text>
<line x1="608.5" y1="523.5" x2="612.3" y2="523.5" stroke="#000" stroke-width="1.1"/>
<line x1="608.5" y1="527.5" x2="612.3" y2="527.5" stroke="#000" stroke-width="1.1"/>
<line x1="608.5" y1="531.5" x2="612.3" y2="531.5" stroke="#000" stroke-width="1.1"/>
<line x1="608.5" y1="535.5" x2="612.3" y2="535.5" stroke="#000" stroke-width="1.1"/>
<line x1="608.5" y1="539.5" x2="615.3" y2="539.5" stroke="#000" stroke-width="1.1"/>
<text x="617.3" y="543.2" font-family='"Liberation Sans", sans-serif' font-size="10.5" font-weight="bold" fill="#000" textLength="23.2" lengthAdjust="spacingAndGlyphs" stroke="#000" stroke-width="0.25" xml:space="preserve">-2.0</text>
<line x1="608.5" y1="543.5" x2="612.3" y2="543.5" stroke="#000" stroke-width="1.1"/>
<line x1="608.5" y1="547.5" x2="612.3" y2="547.5" stroke="#000" stroke-width="1.1"/>
<line x1="608.5" y1="551.5" x2="612.3" y2="551.5" stroke="#000" stroke-width="1.1"/>
<line x1="608.5" y1="554.5" x2="612.3" y2="554.5" stroke="#000" stroke-width="1.1"/>
<line x1="608.5" y1="558.5" x2="615.3" y2="558.5" stroke="#000" stroke-width="1.1"/>
<text x="617.3" y="562.2" font-family='"Liberation Sans", sans-serif' font-size="10.5" font-weight="bold" fill="#000" textLength="23.2" lengthAdjust="spacingAndGlyphs" stroke="#000" stroke-width="0.25" xml:space="preserve">-2.5</text>
<line x1="608.5" y1="562.5" x2="612.3" y2="562.5" stroke="#000" stroke-width="1.1"/>
<line x1="608.5" y1="566.5" x2="612.3" y2="566.5" stroke="#000" stroke-width="1.1"/>
<line x1="608.5" y1="570.5" x2="612.3" y2="570.5" stroke="#000" stroke-width="1.1"/>
<line x1="608.5" y1="574.5" x2="612.3" y2="574.5" stroke="#000" stroke-width="1.1"/>
<line x1="608.5" y1="578.5" x2="615.3" y2="578.5" stroke="#000" stroke-width="1.1"/>
<line x1="608.5" y1="582.5" x2="615.3" y2="582.5" stroke="#000" stroke-width="1.1"/>
<text x="617.3" y="586.2" font-family='"Liberation Sans", sans-serif' font-size="10.5" font-weight="bold" fill="#000" textLength="23.2" lengthAdjust="spacingAndGlyphs" stroke="#000" stroke-width="0.25" xml:space="preserve">-3.1</text>
<text transform="translate(657.6,492) rotate(-90)" font-family='"Liberation Sans", sans-serif' font-size="11.5" font-weight="bold" textLength="53" lengthAdjust="spacingAndGlyphs">Doppler, Hz</text>
<path d="M669,402.5h8M673,398.5v8" stroke="#0000e6" stroke-width="1.1" fill="none"/>
<text x="682.5" y="406.5" font-family='"Liberation Sans", sans-serif' font-size="10.5" font-weight="bold" fill="#0000e6" textLength="44.5" lengthAdjust="spacingAndGlyphs" stroke="#0000e6" stroke-width="0.2" xml:space="preserve">Positive</text>
<circle cx="672.7" cy="522.6" r="2.7" fill="none" stroke="#e60000" stroke-width="1.1"/>
<text x="682.5" y="526.5" font-family='"Liberation Sans", sans-serif' font-size="10.5" font-weight="bold" fill="#e60000" textLength="50.5" lengthAdjust="spacingAndGlyphs" stroke="#e60000" stroke-width="0.2" xml:space="preserve">Negative</text>
<text x="12" y="571.5" font-family='"Liberation Mono", monospace' font-size="12.5" font-weight="normal" font-style="italic" fill="#000" xml:space="preserve" stroke="#000" stroke-width="0.2">V</text>
<text x="19.5" y="575.5" font-family='"Liberation Mono", monospace' font-size="9.5" font-weight="normal" font-style="normal" fill="#000" xml:space="preserve" stroke="#000" stroke-width="0.2">h</text>
<text x="32.5 39.5 46.5 53.5 60.5 67.5 74.5 81.5 88.5" y="571.5" font-family='"Liberation Mono", monospace' font-size="12.5" font-weight="normal" font-style="italic" fill="#000" xml:space="preserve" stroke="#000" stroke-width="0.2">= 45 ± 47</text>
<text x="102.5 109.5 116.5" y="571.5" font-family='"Liberation Mono", monospace' font-size="12.5" font-weight="normal" font-style="normal" fill="#000" xml:space="preserve" stroke="#000" stroke-width="0.2">m/s</text>
<text x="12 19 26 33 40 47 54 61 68 75 82 89 96 103 110 117 124 131 138" y="592.5" font-family='"Liberation Mono", monospace' font-size="12.5" font-weight="normal" font-style="italic" fill="#000" xml:space="preserve" stroke="#000" stroke-width="0.2">Compass coordinates</text>
<text x="481" y="571.5" font-family='"Liberation Mono", monospace' font-size="12.5" font-weight="normal" font-style="italic" fill="#000" xml:space="preserve" stroke="#000" stroke-width="0.2">V</text>
<text x="488.5" y="575.5" font-family='"Liberation Mono", monospace' font-size="9.5" font-weight="normal" font-style="normal" fill="#000" xml:space="preserve" stroke="#000" stroke-width="0.2">z</text>
<text x="502 509 516 523 530 537 544" y="571.5" font-family='"Liberation Mono", monospace' font-size="12.5" font-weight="normal" font-style="italic" fill="#000" xml:space="preserve" stroke="#000" stroke-width="0.2">= 4 ± 2</text>
<text x="558 565 572" y="571.5" font-family='"Liberation Mono", monospace' font-size="12.5" font-weight="normal" font-style="normal" fill="#000" xml:space="preserve" stroke="#000" stroke-width="0.2">m/s</text>
<text x="419 426 433 440 447 454 461 468 475 482 489 496 503 510" y="592.5" font-family='"Liberation Mono", monospace' font-size="12.5" font-weight="normal" font-style="italic" fill="#000" xml:space="preserve" stroke="#000" stroke-width="0.2">Zenith: max 40</text>
<text x="516" y="592.5" font-family='"Liberation Mono", monospace' font-size="12.5" font-weight="normal" font-style="italic" fill="#000" xml:space="preserve" stroke="#000" stroke-width="0.2">°</text>
<text x="535 542 549 556 563 570" y="592.5" font-family='"Liberation Mono", monospace' font-size="12.5" font-weight="normal" font-style="italic" fill="#000" xml:space="preserve" stroke="#000" stroke-width="0.2">step 5</text>
<text x="576" y="592.5" font-family='"Liberation Mono", monospace' font-size="12.5" font-weight="normal" font-style="italic" fill="#000" xml:space="preserve" stroke="#000" stroke-width="0.2">°</text>
<text x="655" y="592.5" font-family='"Liberation Sans", sans-serif' font-size="10" font-weight="normal" fill="#000" textLength="88.5" lengthAdjust="spacingAndGlyphs" xml:space="preserve">ShowSkymap v 1.0</text>
<text x="753.5" y="592.5" font-family='"Liberation Sans", sans-serif' font-size="10" font-weight="normal" fill="#000" textLength="38.5" lengthAdjust="spacingAndGlyphs" xml:space="preserve">SD v 5.0</text>
</svg>
</body></html>
